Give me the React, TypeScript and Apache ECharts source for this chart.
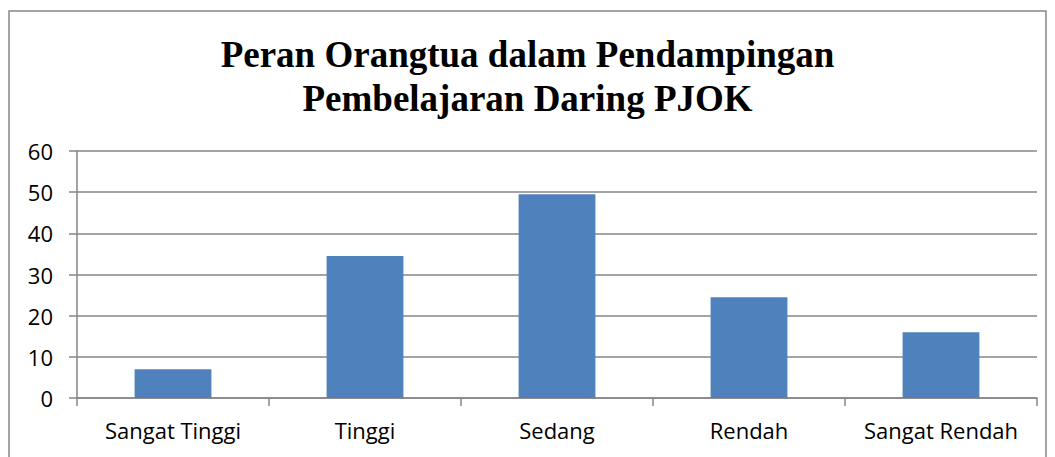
import React, { useEffect, useRef } from "react";
import * as echarts from "echarts";

const categories = ["Sangat Tinggi", "Tinggi", "Sedang", "Rendah", "Sangat Rendah"];
const values = [7, 34.5, 49.5, 24.5, 16];
const titleLines = ["Peran Orangtua dalam Pendampingan", "Pembelajaran Daring PJOK"];

export default function App() {
  const ref = useRef<HTMLDivElement>(null);
  useEffect(() => {
    document.body.style.margin = "0";
    const chart = echarts.init(ref.current!, null, { renderer: "svg" });
    const gray = "#868686";
    chart.setOption({
      animation: false,
      backgroundColor: "#ffffff",
      title: {
        text: titleLines.join("\n"),
        left: "center",
        top: 27,
        textStyle: {
          fontFamily: "Liberation Serif",
          fontWeight: "bold",
          fontSize: 37,
          lineHeight: 44,
          color: "#000000",
        },
      },
      graphic: [
        {
          type: "rect",
          shape: { x: 9, y: 11, width: 1037, height: 470 },
          style: { fill: "none", stroke: gray, lineWidth: 1.5 },
          silent: true,
        },
      ],
      grid: { left: 77, right: 18, top: 151, bottom: 59, containLabel: false },
      xAxis: {
        type: "category",
        data: categories,
        axisLine: { show: true, lineStyle: { color: gray, width: 1.5 } },
        axisTick: { show: true, interval: 0, alignWithLabel: false, length: 8, lineStyle: { color: gray, width: 1.5 } },
        axisLabel: { interval: 0, hideOverlap: false, fontFamily: "Open Sans", fontSize: 22, color: "#000", margin: 21 },
      },
      yAxis: {
        type: "value",
        min: 0,
        max: 60,
        interval: 10,
        axisLine: { show: true, lineStyle: { color: gray, width: 1.5 } },
        axisTick: { show: true, length: 8, lineStyle: { color: gray, width: 1.5 } },
        splitLine: { show: true, lineStyle: { color: gray, width: 1.5 } },
        axisLabel: { fontFamily: "Open Sans", fontSize: 22, color: "#000", margin: 24 },
      },
      series: [
        {
          type: "bar",
          data: values,
          barWidth: "40%",
          itemStyle: { color: "#4F81BD" },
        },
      ],
    });
    return () => chart.dispose();
  }, []);
  return <div ref={ref} style={{ width: 1055, height: 457 }} />;
}
